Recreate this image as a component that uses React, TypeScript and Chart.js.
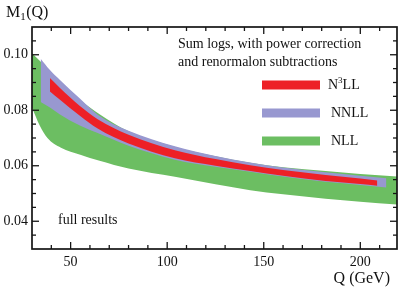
import React, { useEffect, useRef } from "react";
import { Chart, registerables } from "chart.js";

Chart.register(...registerables);

// ---- data ----
const xTickValues = [50, 100, 150, 200];
const yTickValues = [0.04, 0.06, 0.08, 0.1];

const nllQ = [30, 34, 38, 45, 55, 65, 80, 104, 125, 143, 160, 182, 200, 219];
const nllUpper = [0.1005, 0.0978, 0.095, 0.0897, 0.0836, 0.0786, 0.0724, 0.0668, 0.0634, 0.0611, 0.0595, 0.0581, 0.057, 0.0561];
const nllLower = [0.081, 0.0745, 0.07, 0.0665, 0.064, 0.0618, 0.059, 0.056, 0.0533, 0.0512, 0.0497, 0.0481, 0.047, 0.046];

const nnllQ = [34.5, 39.3, 44.5, 54.8, 64, 80, 104, 125, 143, 160, 182, 200, 213.5];
const nnllUpper = [0.0986, 0.0945, 0.0909, 0.0842, 0.0784, 0.0726, 0.067, 0.0635, 0.0612, 0.0594, 0.0577, 0.0564, 0.0555];
const nnllLower = [0.083, 0.081, 0.0785, 0.0745, 0.0718, 0.0672, 0.0622, 0.0596, 0.0578, 0.0561, 0.0542, 0.0531, 0.0522];

const n3llQ = [39.3, 44.5, 54.8, 64, 80, 104, 125, 143, 160, 182, 200, 208.8];
const n3llUpper = [0.0916, 0.088, 0.0815, 0.0768, 0.0712, 0.0656, 0.0624, 0.0602, 0.0585, 0.0567, 0.0554, 0.0547];
const n3llLower = [0.0868, 0.0838, 0.078, 0.0734, 0.068, 0.0627, 0.06, 0.0581, 0.0564, 0.0545, 0.0534, 0.0528];

const legendTitle = ["Sum logs, with power correction", "and renormalon subtractions"];
const seriesNames = ["N3LL", "NNLL", "NLL"];
const annotation = "full results";

const RED = "rgb(237,32,38)";
const PURPLE = "rgb(152,152,208)";
const GREEN = "rgb(108,190,98)";
const SERIF = '"Liberation Serif", "DejaVu Serif", serif';

const pts = (q: number[], v: number[]) => q.map((x, i) => ({ x, y: v[i] }));

function band(q: number[], up: number[], lo: number[], color: string, order: number) {
  const common = {
    borderWidth: 0,
    pointRadius: 0,
    cubicInterpolationMode: "monotone" as const,
    order,
    borderColor: color,
    backgroundColor: color,
  };
  return [
    { ...common, data: pts(q, up), fill: false },
    { ...common, data: pts(q, lo), fill: "-1" },
  ];
}

const decorPlugin = {
  id: "decor",
  afterDraw(chart: any) {
    const { ctx, chartArea: a, scales } = chart;
    const xs = scales.x;
    const ys = scales.y;
    ctx.save();
    ctx.strokeStyle = "#151515";
    const seg = (x1: number, y1: number, x2: number, y2: number) => {
      ctx.beginPath();
      ctx.moveTo(x1, y1);
      ctx.lineTo(x2, y2);
      ctx.stroke();
    };
    ctx.lineWidth = 1.3;
    for (let q = 40; q <= 210; q += 10) {
      const px = xs.getPixelForValue(q);
      const len = q % 50 === 0 ? 7 : 4;
      seg(px, a.bottom, px, a.bottom - len);
      seg(px, a.top, px, a.top + len);
    }
    for (let i = 1; i < 16; i++) {
      const v = 0.03 + i * 0.005;
      const py = ys.getPixelForValue(v);
      const major = yTickValues.some((t) => Math.abs(t - v) < 1e-6);
      const len = major ? 7 : 4;
      seg(a.left, py, a.left + len, py);
      seg(a.right, py, a.right - len, py);
    }
    ctx.lineWidth = 1.7;
    ctx.strokeRect(a.left, a.top, a.right - a.left, a.bottom - a.top);

    // legend
    ctx.fillStyle = "#111";
    ctx.textBaseline = "middle";
    ctx.textAlign = "left";
    ctx.font = `14px ${SERIF}`;
    ctx.fillText(legendTitle[0], 178, 44);
    ctx.fillText(legendTitle[1], 178, 62);
    const colors = [RED, PURPLE, GREEN];
    const ys2 = [85, 113, 141];
    for (let i = 0; i < 3; i++) {
      ctx.fillStyle = colors[i];
      ctx.fillRect(262, ys2[i] - 4.5, 58, 9);
      ctx.fillStyle = "#111";
      const name = seriesNames[i];
      if (name === "N3LL") {
        let x = 328;
        ctx.font = `14px ${SERIF}`;
        ctx.fillText("N", x, ys2[i]);
        x += ctx.measureText("N").width;
        ctx.font = `9px ${SERIF}`;
        ctx.fillText("3", x, ys2[i] - 4);
        x += ctx.measureText("3").width;
        ctx.font = `14px ${SERIF}`;
        ctx.fillText("LL", x, ys2[i]);
      } else {
        ctx.font = `14px ${SERIF}`;
        ctx.fillText(name, 331, ys2[i]);
      }
    }
    ctx.font = `14px ${SERIF}`;
    ctx.fillText(annotation, 58, 220);

    // axis titles
    ctx.font = `16px ${SERIF}`;
    ctx.textAlign = "right";
    ctx.fillText("Q (GeV)", 390, 279);
    ctx.textAlign = "left";
    let x = 6;
    ctx.fillText("M", x, 13);
    x += ctx.measureText("M").width;
    ctx.font = `11px ${SERIF}`;
    ctx.fillText("1", x, 17);
    x += ctx.measureText("1").width + 0.5;
    ctx.font = `16px ${SERIF}`;
    ctx.fillText("(Q)", x, 13);
    ctx.restore();
  },
};

export default function App() {
  const ref = useRef<HTMLCanvasElement | null>(null);
  useEffect(() => {
    document.body.style.margin = "0";
    const canvas = ref.current!;
    const chart = new Chart(canvas, {
      type: "line",
      data: {
        datasets: [
          ...band(n3llQ, n3llUpper, n3llLower, RED, 1),
          ...band(nnllQ, nnllUpper, nnllLower, PURPLE, 2),
          ...band(nllQ, nllUpper, nllLower, GREEN, 3),
        ] as any,
      },
      options: {
        animation: false,
        responsive: false,
        devicePixelRatio: 1,
        layout: { padding: { top: 27, right: 2, left: 0, bottom: 0 } },
        plugins: { legend: { display: false }, tooltip: { enabled: false } },
        scales: {
          x: {
            type: "linear",
            min: 30,
            max: 219,
            grid: { display: false, drawTicks: false },
            border: { display: false },
            afterBuildTicks: (s: any) => {
              s.ticks = xTickValues.map((v) => ({ value: v }));
            },
            afterFit: (s: any) => {
              s.height = 40;
            },
            ticks: {
              autoSkip: false,
              maxRotation: 0,
              padding: 5,
              color: "#111",
              font: { family: SERIF, size: 14 },
              callback: (v: any) => String(v),
            },
          },
          y: {
            type: "linear",
            min: 0.03,
            max: 0.11,
            grid: { display: false, drawTicks: false },
            border: { display: false },
            afterBuildTicks: (s: any) => {
              s.ticks = yTickValues.map((v) => ({ value: v }));
            },
            afterFit: (s: any) => {
              s.width = 32;
            },
            ticks: {
              padding: 4,
              color: "#111",
              font: { family: SERIF, size: 14 },
              callback: (v: any) => Number(v).toFixed(2),
            },
          },
        },
      },
      plugins: [decorPlugin],
    });
    return () => chart.destroy();
  }, []);
  return (
    <div style={{ width: 399, height: 289 }}>
      <canvas ref={ref} width={399} height={289} />
    </div>
  );
}
